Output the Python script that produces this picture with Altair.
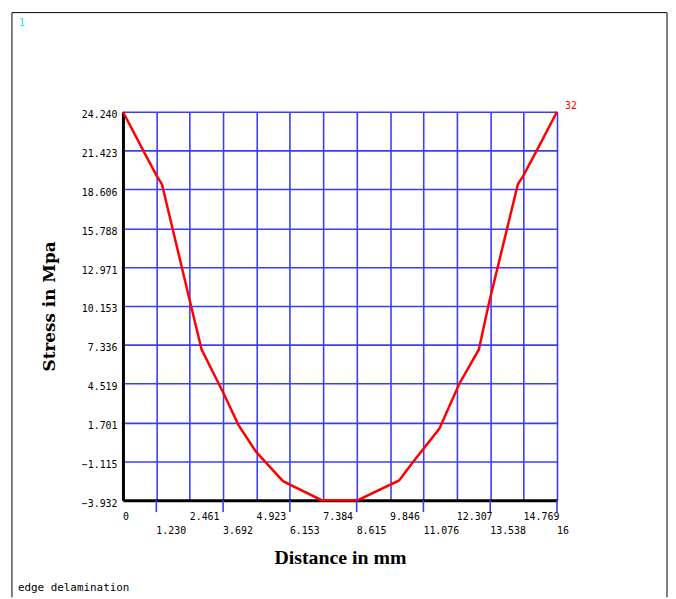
import altair as alt
import pandas as pd

# Curve (distance in mm, stress in MPa)
distance = [0.00, 0.70, 1.25, 1.44, 2.51, 2.90, 3.69, 4.25, 4.91, 5.90, 7.32,
            8.66, 10.18, 10.70, 11.66, 12.39, 13.12, 13.49, 14.56, 14.75, 15.30, 16.00]
stress = [24.240, 21.60, 19.57, 18.97, 10.15, 7.00, 3.90, 1.55, -0.43, -2.55, -3.932,
          -3.932, -2.50, -1.15, 1.24, 4.48, 7.00, 10.35, 19.00, 19.57, 21.60, 24.240]

x_ticks = [0, 1.230, 2.461, 3.692, 4.923, 6.153, 7.384, 8.615, 9.846, 11.076,
           12.307, 13.538, 14.769, 16]
x_tick_labels = ["0", "1.230", "2.461", "3.692", "4.923", "6.153", "7.384", "8.615",
                 "9.846", "11.076", "12.307", "13.538", "14.769", "16"]
y_ticks = [-3.932, -1.115, 1.701, 4.519, 7.336, 10.153, 12.971, 15.788, 18.606,
           21.423, 24.240]

end_label = "32"
corner_label = "1"
caption = "edge delamination"

BLUE = "#3c3cff"
MONO = "DejaVu Sans Mono"

df = pd.DataFrame({"distance": distance, "stress": stress})
ticks_df = pd.DataFrame({"distance": x_ticks, "label": x_tick_labels})
even_df = ticks_df.iloc[0::2]
odd_df = ticks_df.iloc[1::2]
end_df = df.tail(1).assign(label=end_label)

xscale = alt.Scale(domain=[0, 16], nice=False, zero=False)
yscale = alt.Scale(domain=[-3.932, 24.240], nice=False, zero=False)

curve = alt.Chart(df).mark_line(color="red", strokeWidth=2.5).encode(
    x=alt.X("distance:Q", scale=xscale,
            axis=alt.Axis(values=x_ticks, tickCount=30, labels=False, ticks=False,
                          grid=True, gridColor=BLUE, gridWidth=1.6, gridOpacity=1,
                          domainColor="black", domainWidth=3,
                          title="Distance in mm", titleFont="Liberation Serif",
                          titleFontSize=20, titleFontWeight="bold", titleColor="black",
                          titleX=219, titleY=58, titleAlign="center",
                          titleBaseline="middle")),
    y=alt.Y("stress:Q", scale=yscale,
            axis=alt.Axis(values=y_ticks, tickCount=30, format=".3f", ticks=False,
                          grid=True, gridColor=BLUE, gridWidth=1.6, gridOpacity=1,
                          domainColor="black", domainWidth=3, labelOverlap=False,
                          labelFont=MONO, labelFontSize=10, labelColor="black",
                          labelPadding=6, labelOffset=3,
                          title="Stress in Mpa", titleFont="DejaVu Serif",
                          titleFontSize=17, titleFontWeight="bold", titleColor="black",
                          titleX=-74, titleY=196, titleAngle=270,
                          titleAlign="center", titleBaseline="middle")),
)

tick_ext = alt.Chart(odd_df).mark_rule(color=BLUE, strokeWidth=1.6).encode(
    x=alt.X("distance:Q", scale=xscale),
    y=alt.value(392), y2=alt.value(404),
)

even_labels = alt.Chart(even_df).mark_text(
    align="left", baseline="middle", font=MONO, fontSize=10, color="black"
).encode(x=alt.X("distance:Q", scale=xscale), y=alt.value(409), text="label:N")

odd_labels = alt.Chart(odd_df).mark_text(
    align="left", baseline="middle", font=MONO, fontSize=10, color="black"
).encode(x=alt.X("distance:Q", scale=xscale), y=alt.value(423), text="label:N")

end_text = alt.Chart(end_df).mark_text(
    align="left", baseline="middle", font=MONO, fontSize=10, color="red", dx=8, dy=-6
).encode(x=alt.X("distance:Q", scale=xscale), y=alt.Y("stress:Q", scale=yscale),
         text="label:N")

corner = alt.Chart(pd.DataFrame({"t": [corner_label]})).mark_text(
    align="left", baseline="middle", font=MONO, fontSize=10, color="#22e0ee"
).encode(x=alt.value(-105), y=alt.value(-90), text="t:N")

cap = alt.Chart(pd.DataFrame({"t": [caption]})).mark_text(
    align="left", baseline="middle", font=MONO, fontSize=11, color="black"
).encode(x=alt.value(-106), y=alt.value(481), text="t:N")

frame_left = alt.Chart(pd.DataFrame({"a": [0]})).mark_rule(color="black", strokeWidth=1).encode(
    x=alt.value(-112), y=alt.value(-100), y2=alt.value(490))
frame_right = alt.Chart(pd.DataFrame({"a": [0]})).mark_rule(color="black", strokeWidth=1).encode(
    x=alt.value(549), y=alt.value(-100), y2=alt.value(490))
frame_top = alt.Chart(pd.DataFrame({"a": [0]})).mark_rule(color="black", strokeWidth=1).encode(
    x=alt.value(-112), x2=alt.value(549), y=alt.value(-100))

chart = alt.layer(
    curve, tick_ext, even_labels, odd_labels, end_text, corner, cap,
    frame_left, frame_right, frame_top
).properties(
    width=438, height=392,
    padding={"left": 116, "top": 102, "right": 112, "bottom": 96},
    autosize=alt.AutoSizeParams(type="none"),
    background="white",
).configure_view(strokeWidth=0)

chart.save("out.html", embed_options={"renderer": "svg", "actions": False})
